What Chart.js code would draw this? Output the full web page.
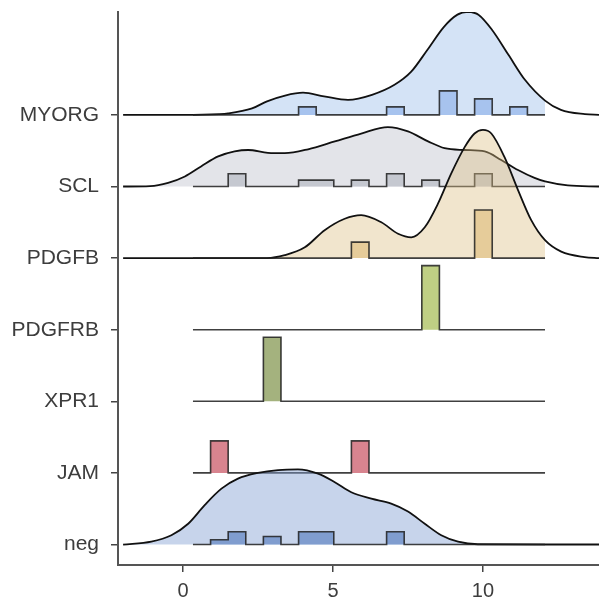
<!DOCTYPE html>
<html>
<head>
<meta charset="utf-8">
<script src="https://cdn.jsdelivr.net/npm/chart.js@4.4.1/dist/chart.umd.min.js"></script>
<style>
  html, body { margin: 0; padding: 0; background: #fff; }
  #wrap { width: 599px; height: 603px; }
</style>
</head>
<body>
<div id="wrap"><canvas id="ridgeChart" width="599" height="603"></canvas></div>
<script>
// rows from bottom to top
var rows = ['neg', 'JAM', 'XPR1', 'PDGFRB', 'PDGFB', 'SCL', 'MYORG'];
var xTicks = [0, 5, 10];

// histogram bins (20 bins between these limits)
var binStart = 0.33;
var binEnd = 12.07;
var binCount = 20;

// counts per bin
var negCounts    = [0,3,8,0,5,0,8,8,0,0,0,8,0,0,0,0,0,0,0,0];
var jamCounts    = [0,1,0,0,0,0,0,0,0,1,0,0,0,0,0,0,0,0,0,0];
var xpr1Counts   = [0,0,0,0,1,0,0,0,0,0,0,0,0,0,0,0,0,0,0,0];
var pdgfrbCounts = [0,0,0,0,0,0,0,0,0,0,0,0,0,1,0,0,0,0,0,0];
var pdgfbCounts  = [0,0,0,0,0,0,0,0,0,1,0,0,0,0,0,0,3,0,0,0];
var sclCounts    = [0,0,2,0,0,0,1,1,0,1,0,2,0,1,0,0,2,0,0,0];
var myorgCounts  = [0,0,0,0,0,0,1,0,0,0,0,1,0,0,3,0,2,0,1,0];

// density ridges [x, height]
var negDensity = [[-2.0,0],[-1.06,0.04],[-0.39,0.13],[0.17,0.29],[0.72,0.55],[1.28,0.78],[1.83,0.92],[2.5,1.0],[3.17,1.04],[3.83,1.05],[4.5,0.99],[5.06,0.87],[5.61,0.73],[6.28,0.64],[6.94,0.57],[7.5,0.46],[8.06,0.29],[8.61,0.13],[9.17,0.04],[9.83,0.004],[12.07,0],[13.87,0]];
var pdgfbDensity = [[-2.0,0],[2.8,0],[3.39,0.04],[4.06,0.15],[4.72,0.39],[5.39,0.55],[5.94,0.6],[6.61,0.5],[7.17,0.34],[7.61,0.29],[8.06,0.43],[8.5,0.76],[8.94,1.18],[9.39,1.55],[9.72,1.74],[10.0,1.79],[10.28,1.74],[10.72,1.41],[11.17,0.95],[11.61,0.53],[12.07,0.25],[12.61,0.09],[13.39,0.014],[13.87,0]];
var sclDensity = [[-2.0,0],[-1.1,0.005],[-0.5,0.05],[0.06,0.14],[0.6,0.28],[1.17,0.42],[1.72,0.49],[2.17,0.51],[2.83,0.47],[3.39,0.465],[4.17,0.52],[5.06,0.63],[5.94,0.74],[6.83,0.83],[7.5,0.77],[8.17,0.63],[8.72,0.535],[9.39,0.51],[10.06,0.49],[10.61,0.37],[11.17,0.23],[11.72,0.12],[12.07,0.07],[12.83,0.015],[13.87,0]];
var myorgDensity = [[-2.0,0],[0,0],[1.2,0.01],[1.5,0.02],[2.3,0.09],[2.8,0.19],[3.4,0.27],[4.0,0.31],[4.7,0.26],[5.5,0.21],[6.3,0.28],[7.05,0.42],[7.6,0.6],[8.15,0.91],[8.7,1.23],[9.15,1.4],[9.5,1.44],[9.85,1.4],[10.3,1.19],[10.85,0.84],[11.4,0.49],[12.07,0.2],[12.6,0.07],[13.4,0.01],[13.87,0]];

var histColors = {
  neg: '#809dcf', JAM: '#d8848f', XPR1: '#a4b27e', PDGFRB: '#bfcf84',
  PDGFB: '#e6cc9a', SCL: '#c5c8d0', MYORG: '#a7c3ee'
};
var densFill = {
  neg: 'rgba(130,160,210,0.45)', PDGFB: 'rgba(220,190,130,0.4)',
  SCL: 'rgba(185,188,200,0.4)', MYORG: 'rgba(160,192,235,0.45)'
};
var histScale = 0.525; // row units per density unit

var countsByRow = {
  neg: negCounts, JAM: jamCounts, XPR1: xpr1Counts, PDGFRB: pdgfrbCounts,
  PDGFB: pdgfbCounts, SCL: sclCounts, MYORG: myorgCounts
};
var densByRow = { neg: negDensity, PDGFB: pdgfbDensity, SCL: sclDensity, MYORG: myorgDensity };

var binW = (binEnd - binStart) / binCount;

function histPoints(counts, base) {
  var n = counts.reduce(function (a, b) { return a + b; }, 0);
  var pts = [{ x: binStart, y: base }];
  counts.forEach(function (c, i) {
    pts.push({ x: binStart + (i + 1) * binW, y: base + c / (n * binW) * histScale });
  });
  return pts;
}

var datasets = [];
var seq = 0;
// draw the top row first so lower rows sit over it
for (var r = rows.length - 1; r >= 0; r--) {
  var name = rows[r];
  var dens = densByRow[name];
  if (dens) {
    var pts = dens.map(function (p) { return { x: p[0], y: r + p[1] }; });
    datasets.push({
      data: pts.filter(function (p) { return p.x <= binEnd; }),
      borderWidth: 0, pointRadius: 0, cubicInterpolationMode: 'monotone',
      backgroundColor: densFill[name], fill: { value: r }, order: 1000 - seq++
    });
    datasets.push({
      data: pts, borderColor: '#111', borderWidth: 1.8, pointRadius: 0,
      cubicInterpolationMode: 'monotone', fill: false, order: 1000 - seq++
    });
  }
  datasets.push({
    data: histPoints(countsByRow[name], r), stepped: 'after',
    borderColor: 'rgba(30,30,30,0.85)', borderWidth: 1.6, pointRadius: 0,
    backgroundColor: histColors[name], fill: { value: r }, order: 1000 - seq++
  });
}

function noPad(s) {
  s.paddingTop = 0; s.paddingBottom = 0; s.paddingLeft = 0; s.paddingRight = 0;
}

var ctx = document.getElementById('ridgeChart').getContext('2d');
new Chart(ctx, {
  type: 'line',
  data: { datasets: datasets },
  options: {
    responsive: false,
    animation: false,
    layout: { padding: { top: 12, right: 0, left: 0, bottom: 0 } },
    plugins: { legend: { display: false }, tooltip: { enabled: false } },
    scales: {
      x: {
        type: 'linear', min: -2.17, max: 13.87,
        afterBuildTicks: function (s) { s.ticks = xTicks.map(function (v) { return { value: v }; }); },
        afterFit: function (s) { s.height = 38; noPad(s); },
        grid: { drawOnChartArea: false, drawTicks: true, tickLength: 7, color: '#444', lineWidth: 1.5 },
        border: { display: true, color: '#555', width: 2 },
        ticks: { font: { family: 'Liberation Sans', size: 20 }, color: '#3d3d3d', padding: 7 }
      },
      y: {
        type: 'linear', min: -0.286, max: 7.437,
        afterBuildTicks: function (s) { s.ticks = rows.map(function (v, i) { return { value: i }; }); },
        afterFit: function (s) { s.width = 118; noPad(s); },
        grid: { drawOnChartArea: false, drawTicks: true, tickLength: 7, color: '#444', lineWidth: 1.5 },
        border: { display: true, color: '#555', width: 2 },
        ticks: {
          font: { family: 'Liberation Sans', size: 21 }, color: '#3d3d3d', padding: 12,
          callback: function (v) { return rows[v]; }
        }
      }
    }
  }
});
</script>
</body>
</html>
